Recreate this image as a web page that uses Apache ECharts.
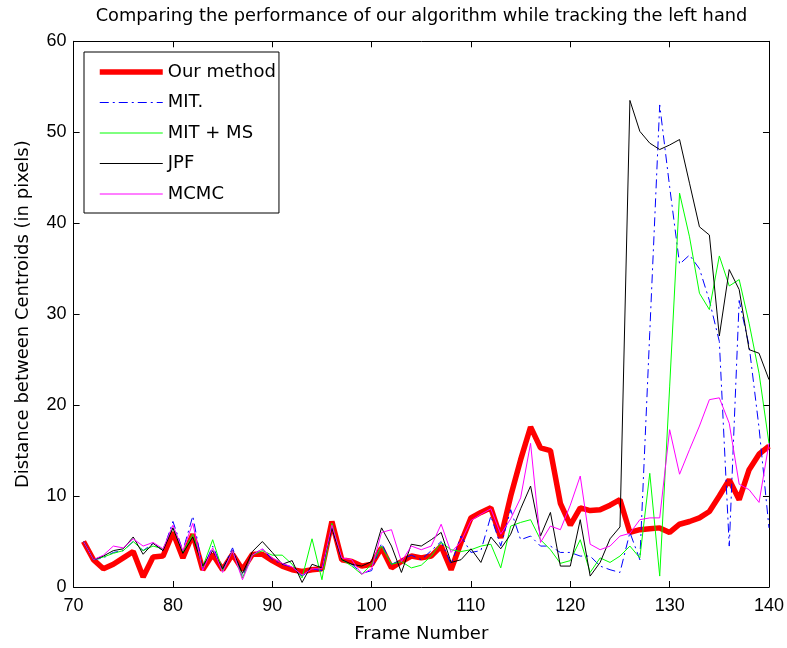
<!DOCTYPE html>
<html>
<head>
<meta charset="utf-8">
<script src="https://cdn.jsdelivr.net/npm/echarts@6/dist/echarts.min.js"></script>
<style>
html,body{margin:0;padding:0;background:#fff;}
#chart{width:787px;height:648px;}
</style>
</head>
<body>
<div id="chart"></div>
<script>
var frames = [71,72,73,74,75,76,77,78,79,80,81,82,83,84,85,86,87,88,89,90,
  91,92,93,94,95,96,97,98,99,100,101,102,103,104,105,106,107,108,109,110,
  111,112,113,114,115,116,117,118,119,120,121,122,123,124,125,126,127,128,129,130,
  131,132,133,134,135,136,137,138,139,140];

var ourMethod = [5.0,3.0,2.0,2.5,3.2,3.9,1.1,3.3,3.4,6.0,3.2,5.8,1.9,3.6,1.9,3.6,1.9,3.6,3.6,2.9,
  2.3,1.9,1.7,1.9,2.0,7.2,3.0,2.8,2.3,2.5,4.3,2.1,2.8,3.4,3.2,3.4,4.5,1.9,4.9,7.6,
  8.2,8.7,5.4,10.0,14.0,17.6,15.3,15.0,9.2,6.8,8.7,8.4,8.5,9.0,9.6,6.0,6.3,6.4,6.5,6.0,
  6.9,7.2,7.6,8.3,10.0,11.8,9.6,12.9,14.6,15.5];

var mit = [5.0,3.0,3.2,3.8,4.0,5.0,4.0,4.8,4.0,7.2,4.0,7.8,2.0,4.5,2.0,4.3,1.2,3.5,4.2,3.0,
  2.5,2.2,1.2,2.0,1.8,6.5,3.0,2.5,1.5,1.8,4.8,2.5,3.0,3.5,3.0,4.0,5.0,2.5,5.6,3.8,
  4.0,7.8,4.5,8.5,5.2,5.6,4.5,4.5,3.8,3.8,3.4,3.4,2.3,1.9,1.6,6.0,3.0,28.0,53.0,44.0,
  35.5,36.5,35.0,31.5,27.0,4.5,31.5,26.5,17.5,6.5];

var mitMs = [5.0,3.0,3.3,3.7,4.0,5.0,4.0,4.5,4.2,6.5,3.8,5.8,2.2,5.2,1.8,4.0,1.0,3.5,4.0,3.5,
  3.5,2.5,1.0,5.3,0.8,7.0,3.0,2.3,1.4,2.5,4.5,2.5,2.8,2.1,2.4,3.4,4.9,4.1,3.9,4.1,
  4.5,4.7,2.1,6.7,7.1,7.4,5.2,4.1,2.6,2.9,5.2,1.6,3.2,2.7,3.4,4.5,3.2,12.5,1.2,22.0,
  43.3,38.5,32.3,30.5,36.4,33.1,33.8,29.0,23.5,15.8];

var jpf = [5.0,3.0,3.4,4.0,4.2,5.5,3.6,4.8,4.0,6.5,3.7,5.5,2.3,4.0,2.0,4.0,1.5,3.9,5.0,3.8,
  2.5,2.9,0.5,2.5,2.1,6.5,3.0,2.5,2.3,2.8,6.5,4.5,1.6,4.7,4.5,5.2,6.0,2.7,3.0,4.2,
  2.7,5.5,4.2,5.8,8.6,11.1,5.6,8.2,2.3,2.3,7.4,1.2,2.7,5.3,6.6,53.5,50.1,48.8,48.1,48.6,
  49.2,44.4,39.6,38.7,27.6,34.9,32.7,26.1,25.7,22.8];

var mcmc = [5.0,3.0,3.5,4.5,4.3,5.3,4.5,4.9,4.2,6.8,4.0,7.0,1.8,4.3,1.6,4.0,0.8,3.5,4.2,3.2,
  2.6,2.2,1.3,2.0,2.0,6.8,3.2,3.0,1.4,2.0,6.0,6.3,2.8,4.5,4.1,4.5,6.9,3.8,5.0,7.3,
  8.0,8.6,5.8,7.5,9.8,15.8,4.9,6.7,6.3,9.0,12.2,4.7,4.1,4.5,5.6,5.9,7.4,7.6,7.6,17.3,
  12.4,15.1,17.7,20.6,20.8,18.0,11.3,10.7,9.3,15.8];

var seriesNames = ['Our method', 'MIT.', 'MIT + MS', 'JPF', 'MCMC'];
var xTicks = {min: 70, max: 140, step: 10};
var yTicks = {min: 0, max: 60, step: 10};

function pairs(vals) {
  return frames.map(function (f, i) { return [f, vals[i]]; });
}

var FONT = '"DejaVu Sans", "Liberation Sans", Arial, sans-serif';
var TICKFONT = '"Liberation Sans", Arial, Helvetica, sans-serif';
var styles = [
  {color: '#ff0000', width: 5.5, type: 'solid'},
  {color: '#0000ff', width: 1, type: [9, 4, 2, 4]},
  {color: '#00ff00', width: 1, type: 'solid'},
  {color: '#000000', width: 1, type: 'solid'},
  {color: '#ff00ff', width: 1, type: 'solid'}
];
var allData = [ourMethod, mit, mitMs, jpf, mcmc];

var chart = echarts.init(document.getElementById('chart'), null, {renderer: 'canvas'});

var axisCommon = {
  type: 'value',
  axisLine: {show: true, onZero: false, lineStyle: {color: '#000', width: 1}},
  axisTick: {show: true, inside: true, length: 6, lineStyle: {color: '#000'}},
  splitLine: {show: false},
  axisLabel: {color: '#000', fontSize: 18, fontFamily: TICKFONT}
};

var option = {
  backgroundColor: '#fff',
  animation: false,
  title: {
    text: 'Comparing the performance of our algorithm while tracking the left hand',
    left: 421.5,
    textAlign: 'center',
    top: 7,
    padding: 0,
    textStyle: {color: '#000', fontSize: 17.8, fontWeight: 'normal', fontFamily: FONT}
  },
  grid: {left: 73.6, right: 17.6, top: 41.3, bottom: 60.5, containLabel: false},
  xAxis: [
    Object.assign({}, axisCommon, {
      min: xTicks.min, max: xTicks.max, interval: xTicks.step, position: 'bottom',
      axisLabel: Object.assign({}, axisCommon.axisLabel, {margin: 10}),
      name: 'Frame Number', nameLocation: 'middle', nameGap: 38,
      nameTextStyle: {color: '#000', fontSize: 18, fontFamily: FONT}
    }),
    Object.assign({}, axisCommon, {
      min: xTicks.min, max: xTicks.max, interval: xTicks.step, position: 'top',
      axisLabel: {show: false}
    })
  ],
  yAxis: [
    Object.assign({}, axisCommon, {
      min: yTicks.min, max: yTicks.max, interval: yTicks.step, position: 'left',
      axisLabel: Object.assign({}, axisCommon.axisLabel, {margin: 7}),
      name: 'Distance between Centroids (in pixels)', nameLocation: 'middle', nameGap: 41,
      nameTextStyle: {color: '#000', fontSize: 18, fontFamily: FONT}
    }),
    Object.assign({}, axisCommon, {
      min: yTicks.min, max: yTicks.max, interval: yTicks.step, position: 'right',
      axisLabel: {show: false}
    })
  ],
  legend: {
    orient: 'vertical',
    left: 84,
    top: 52,
    padding: [11, 3, 10, 13],
    itemGap: 12.5,
    itemWidth: 63,
    itemHeight: 18,
    backgroundColor: '#fff',
    borderColor: '#000',
    borderWidth: 1,
    borderRadius: 0,
    textStyle: {color: '#000', fontSize: 18, fontFamily: FONT},
    data: seriesNames.map(function (n, i) {
      return {
        name: n,
        itemStyle: {color: 'rgba(0,0,0,0)', borderColor: 'rgba(0,0,0,0)', borderWidth: 0, opacity: 0},
        lineStyle: {color: styles[i].color, width: styles[i].width, type: styles[i].type, opacity: 1}
      };
    })
  },
  series: seriesNames.map(function (n, i) {
    return {
      name: n,
      type: 'line',
      xAxisIndex: 0,
      yAxisIndex: 0,
      symbol: 'none',
      showSymbol: false,
      clip: true,
      data: pairs(allData[i]),
      lineStyle: {color: styles[i].color, width: styles[i].width, type: styles[i].type},
      itemStyle: {color: styles[i].color}
    };
  })
};
chart.setOption(option);
</script>
</body>
</html>
